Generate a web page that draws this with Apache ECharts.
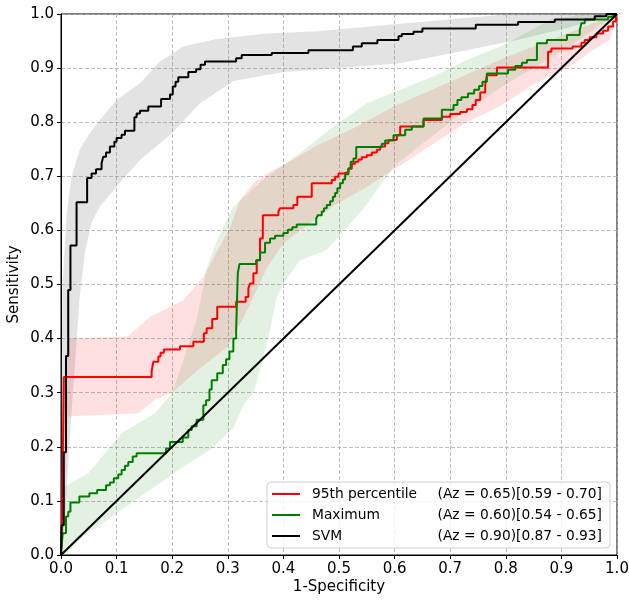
<!DOCTYPE html>
<html>
<head>
<meta charset="utf-8">
<script src="https://cdn.jsdelivr.net/npm/echarts@6/dist/echarts.min.js"></script>
<style>
  html, body { margin: 0; padding: 0; background: #fff; }
  #main-chart { width: 629px; height: 601px; }
</style>
</head>
<body>
<div id="main-chart"></div>
<script>
var mainChart;

// legend labels
var seriesNames = ['95th percentile', 'Maximum', 'SVM'];
var azTexts = ['(Az = 0.65)[0.59 - 0.70]', '(Az = 0.60)[0.54 - 0.65]', '(Az = 0.90)[0.87 - 0.93]'];
var seriesColors = ['#ff0000', '#008000', '#000000'];

// ROC curves [1-specificity, sensitivity]
var rocPercentile = [[0,0],[0.002,0.07],[0.005,0.329],[0.163,0.340],[0.166,0.357],[0.175,0.367],[0.179,0.374],[0.185,0.380],
  [0.214,0.386],[0.238,0.394],[0.257,0.410],[0.262,0.419],[0.272,0.436],[0.281,0.459],[0.315,0.468],[0.332,0.477],
  [0.337,0.493],[0.340,0.502],[0.346,0.521],[0.352,0.545],[0.358,0.585],[0.363,0.628],[0.391,0.635],[0.394,0.641],
  [0.418,0.647],[0.425,0.662],[0.451,0.687],[0.487,0.693],[0.493,0.699],[0.499,0.705],[0.508,0.708],[0.517,0.714],
  [0.523,0.723],[0.529,0.727],[0.535,0.731],[0.541,0.735],[0.550,0.739],[0.559,0.744],[0.568,0.749],[0.574,0.755],
  [0.583,0.761],[0.589,0.767],[0.604,0.776],[0.610,0.792],[0.652,0.804],[0.685,0.810],[0.700,0.815],[0.718,0.819],
  [0.730,0.824],[0.740,0.832],[0.746,0.841],[0.754,0.855],[0.763,0.869],[0.766,0.887],[0.784,0.901],[0.876,0.930],
  [0.882,0.936],[0.920,0.940],[0.936,0.947],[0.942,0.952],[0.951,0.957],[0.963,0.964],[0.975,0.969],[0.984,0.977],
  [0.993,0.986],[0.998,1],[1,1]];

var rocMaximum = [[0,0],[0.003,0.04],[0.009,0.071],[0.013,0.080],[0.017,0.097],[0.033,0.108],[0.051,0.114],[0.065,0.120],
  [0.081,0.129],[0.088,0.134],[0.095,0.142],[0.103,0.149],[0.109,0.157],[0.115,0.165],[0.121,0.172],[0.129,0.182],
  [0.136,0.188],[0.189,0.197],[0.196,0.209],[0.219,0.217],[0.229,0.231],[0.235,0.238],[0.244,0.250],[0.256,0.277],
  [0.261,0.286],[0.267,0.306],[0.271,0.323],[0.281,0.336],[0.291,0.351],[0.297,0.362],[0.303,0.376],[0.310,0.400],
  [0.315,0.416],[0.318,0.521],[0.321,0.538],[0.351,0.545],[0.358,0.559],[0.367,0.577],[0.376,0.585],[0.385,0.590],
  [0.400,0.595],[0.408,0.601],[0.416,0.606],[0.424,0.611],[0.459,0.622],[0.462,0.628],[0.469,0.635],[0.473,0.641],
  [0.478,0.647],[0.484,0.654],[0.489,0.662],[0.493,0.669],[0.497,0.678],[0.502,0.687],[0.507,0.694],[0.511,0.704],
  [0.517,0.715],[0.521,0.727],[0.526,0.733],[0.531,0.754],[0.577,0.760],[0.583,0.766],[0.598,0.776],[0.619,0.786],
  [0.631,0.792],[0.652,0.807],[0.685,0.823],[0.706,0.832],[0.713,0.841],[0.720,0.846],[0.732,0.853],[0.743,0.860],
  [0.752,0.867],[0.758,0.875],[0.766,0.890],[0.804,0.897],[0.817,0.904],[0.829,0.910],[0.838,0.915],[0.856,0.946],
  [0.874,0.952],[0.910,0.961],[0.933,0.970],[0.936,0.983],[0.942,0.990],[0.984,0.995],[0.993,1],[1,1]];

var rocSvm = [[0,0],[0.001,0.055],[0.005,0.19],[0.009,0.368],[0.013,0.49],[0.017,0.572],[0.028,0.652],[0.047,0.697],
  [0.055,0.705],[0.063,0.713],[0.073,0.724],[0.076,0.736],[0.081,0.744],[0.088,0.755],[0.096,0.764],[0.100,0.771],
  [0.109,0.777],[0.115,0.784],[0.132,0.809],[0.136,0.816],[0.142,0.821],[0.157,0.829],[0.180,0.843],[0.196,0.851],
  [0.201,0.866],[0.206,0.875],[0.211,0.883],[0.229,0.893],[0.243,0.898],[0.251,0.906],[0.259,0.912],[0.315,0.918],
  [0.325,0.924],[0.379,0.928],[0.445,0.933],[0.525,0.940],[0.541,0.946],[0.569,0.952],[0.607,0.959],[0.613,0.963],
  [0.634,0.967],[0.650,0.973],[0.746,0.980],[0.822,0.985],[0.888,0.990],[0.960,0.996],[0.981,1],[1,1]];

var chanceLine = [[0,0],[1,1]];

// confidence bands
var bandPercentileUpper = [[0,0.06],[0.004,0.30],[0.012,0.40],[0.12,0.404],[0.16,0.44],[0.22,0.471],[0.256,0.514],[0.28,0.56],
  [0.304,0.605],[0.322,0.656],[0.346,0.687],[0.37,0.705],[0.406,0.724],[0.46,0.757],[0.526,0.789],[0.6,0.83],
  [0.7,0.875],[0.8,0.92],[0.9,0.96],[0.95,0.98],[1,1]];
var bandPercentileLower = [[0,0],[0.006,0.1],[0.012,0.256],[0.139,0.262],[0.169,0.287],[0.2,0.30],[0.25,0.345],[0.30,0.385],
  [0.334,0.45],[0.37,0.53],[0.40,0.576],[0.43,0.60],[0.49,0.645],[0.55,0.68],[0.61,0.72],[0.67,0.76],[0.73,0.80],
  [0.79,0.83],[0.85,0.87],[0.91,0.90],[0.957,0.933],[0.987,0.952],[1,1]];

var bandMaximumUpper = [[0,0.02],[0.007,0.126],[0.049,0.151],[0.109,0.225],[0.169,0.262],[0.2,0.30],[0.22,0.36],[0.245,0.44],
  [0.262,0.53],[0.28,0.58],[0.31,0.644],[0.37,0.699],[0.43,0.743],[0.49,0.792],[0.55,0.835],[0.67,0.885],[0.73,0.915],
  [0.79,0.94],[0.88,0.989],[0.94,1],[1,1]];
var bandMaximumLower = [[0,0],[0.01,0.003],[0.04,0.034],[0.1,0.077],[0.16,0.12],[0.22,0.163],[0.268,0.194],[0.31,0.235],
  [0.33,0.28],[0.346,0.30],[0.358,0.342],[0.37,0.39],[0.376,0.416],[0.388,0.477],[0.40,0.502],[0.43,0.545],
  [0.478,0.564],[0.544,0.64],[0.6,0.72],[0.7,0.80],[0.8,0.87],[0.9,0.93],[0.95,0.965],[1,1]];

var bandSvmUpper = [[0,0.3],[0.003,0.5],[0.01,0.63],[0.019,0.70],[0.034,0.75],[0.052,0.78],[0.07,0.804],[0.1,0.841],
  [0.142,0.872],[0.178,0.912],[0.22,0.94],[0.28,0.954],[0.37,0.964],[0.46,0.968],[0.61,0.982],[0.79,0.998],[0.85,1],[1,1]];
var bandSvmLower = [[0,0],[0.006,0.05],[0.012,0.15],[0.018,0.25],[0.025,0.35],[0.033,0.47],[0.043,0.56],[0.055,0.615],
  [0.07,0.644],[0.1,0.681],[0.142,0.73],[0.2,0.78],[0.25,0.835],[0.31,0.876],[0.4,0.893],[0.46,0.897],[0.61,0.909],
  [0.73,0.933],[0.82,0.952],[0.91,0.974],[0.97,0.992],[1,1]];

window.onload = function () {
    chartInit();
};

function bandSeries(upper, lower, color) {
    return {
        type: 'custom',
        silent: true,
        clip: true,
        z: 1,
        data: [[0, 0]],
        renderItem: function (params, api) {
            var pts = [];
            upper.forEach(function (p) { pts.push(api.coord(p)); });
            lower.slice().reverse().forEach(function (p) { pts.push(api.coord(p)); });
            return { type: 'polygon', shape: { points: pts }, style: { fill: color } };
        }
    };
}

function rocSeries(name, data, color) {
    return {
        name: name,
        type: 'line',
        step: 'end',
        data: data,
        symbol: 'none',
        z: 3,
        lineStyle: { color: color, width: 2 },
        itemStyle: { color: color }
    };
}

function chartInit() {
    mainChart = echarts.init(document.getElementById('main-chart'));

    var axisFont = { fontFamily: 'DejaVu Sans', fontSize: 15, color: '#000' };
    var gridLine = { show: true, lineStyle: { color: '#b0b0b0', width: 0.8, type: [4, 2] } };

    var mainOpt = {
        animation: false,
        textStyle: { fontFamily: 'DejaVu Sans' },
        grid: {
            left: 61, right: 12, top: 14, bottom: 46,
            outerBoundsMode: 'none', containLabel: false,
            show: true, borderColor: '#000', borderWidth: 1
        },
        legend: {
            orient: 'vertical',
            left: 267, top: 482,
            padding: [5, 8, 5, 5],
            icon: 'rect',
            itemWidth: 28, itemHeight: 2, itemGap: 7,
            backgroundColor: 'rgba(255,255,255,0.8)',
            borderColor: '#d0d0d0', borderWidth: 1, borderRadius: 4,
            data: seriesNames,
            formatter: function (name) {
                return '{n|' + name + '}{a|' + azTexts[seriesNames.indexOf(name)] + '}';
            },
            textStyle: {
                fontFamily: 'DejaVu Sans', fontSize: 13.8, color: '#000',
                rich: {
                    n: { fontFamily: 'DejaVu Sans', fontSize: 13.8, color: '#000', width: 124, lineHeight: 14, padding: [0, 0, 0, 7] },
                    a: { fontFamily: 'DejaVu Sans', fontSize: 13.8, color: '#000', width: 166, lineHeight: 14, align: 'right' }
                }
            }
        },
        xAxis: {
            type: 'value', min: 0, max: 1, interval: 0.1,
            name: '1-Specificity', nameLocation: 'middle', nameGap: 25, nameMoveOverlap: false,
            nameTextStyle: axisFont,
            axisLine: { show: true, lineStyle: { color: '#000', width: 1 } },
            axisTick: { show: true, length: 4, lineStyle: { color: '#000' } },
            axisLabel: Object.assign({ margin: 7, formatter: function (v) { return v.toFixed(1); } }, axisFont),
            splitLine: gridLine
        },
        yAxis: {
            type: 'value', min: 0, max: 1, interval: 0.1,
            name: 'Sensitivity', nameLocation: 'middle', nameGap: 39, nameMoveOverlap: false,
            nameTextStyle: axisFont,
            axisLine: { show: true, lineStyle: { color: '#000', width: 1 } },
            axisTick: { show: true, length: 4, lineStyle: { color: '#000' } },
            axisLabel: Object.assign({ margin: 7, formatter: function (v) { return v.toFixed(1); } }, axisFont),
            splitLine: gridLine
        },
        series: [
            bandSeries(bandSvmUpper, bandSvmLower, 'rgba(128,128,128,0.22)'),
            bandSeries(bandPercentileUpper, bandPercentileLower, 'rgba(255,0,0,0.12)'),
            bandSeries(bandMaximumUpper, bandMaximumLower, 'rgba(0,128,0,0.11)'),
            rocSeries(seriesNames[0], rocPercentile, seriesColors[0]),
            rocSeries(seriesNames[1], rocMaximum, seriesColors[1]),
            rocSeries(seriesNames[2], rocSvm, seriesColors[2]),
            {
                type: 'line', data: chanceLine, symbol: 'none', z: 4,
                lineStyle: { color: '#000', width: 2 }
            }
        ]
    };

    mainChart.setOption(mainOpt);
}
</script>
</body>
</html>
